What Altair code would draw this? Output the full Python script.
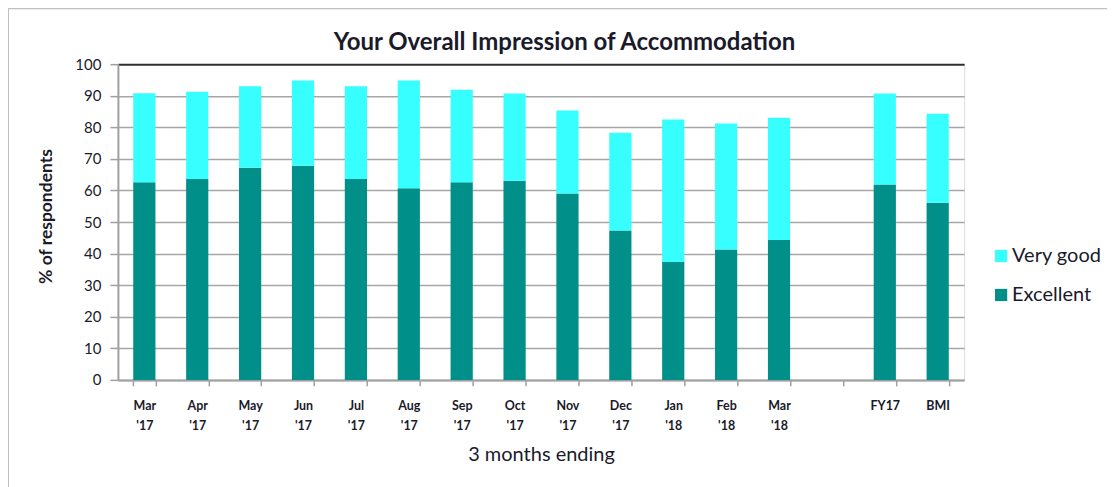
import altair as alt
import pandas as pd

categories = ["Mar '17", "Apr '17", "May '17", "Jun '17", "Jul '17", "Aug '17",
              "Sep '17", "Oct '17", "Nov '17", "Dec '17", "Jan '18", "Feb '18",
              "Mar '18", "gap", "FY17", "BMI"]
excellent = [62.6, 63.6, 67.2, 67.8, 63.6, 60.7, 62.6, 63.1, 59.0, 47.3, 37.3,
             41.3, 44.3, None, 61.9, 56.1]
very_good = [28.2, 27.7, 25.8, 27.0, 29.4, 34.1, 29.3, 27.6, 26.3, 31.0, 45.2,
             39.9, 38.7, None, 28.8, 28.2]
series = ["Very good", "Excellent"]
colors = ["#38FFFF", "#009089"]
title_text = "Your Overall Impression of Accommodation"

rows = []
for c, e, v in zip(categories, excellent, very_good):
    if e is None:
        continue
    rows.append({"cat": c, "series": "Excellent", "value": e, "ord": 0})
    rows.append({"cat": c, "series": "Very good", "value": v, "ord": 1})
df = pd.DataFrame(rows)

FONT = "Lato"
TXT = "#1a1a2a"

bars = alt.Chart(df).mark_bar().encode(
    x=alt.X("cat:N", sort=categories,
            scale=alt.Scale(domain=categories, paddingInner=0.58, paddingOuter=0.29),
            axis=alt.Axis(
                title="3 months ending",
                labelExpr="(datum.value == null || datum.value == 'gap') ? '' : split(datum.value, ' ')",
                labelAngle=0, labelFont=FONT, labelFontSize=12.5, labelFontWeight="bold",
                labelColor=TXT, labelLineHeight=20, labelBaseline="top",
                labelPadding=14, tickSize=6, tickBand="extent",
                tickColor="#a0a0a0", tickWidth=1.5,
                domainColor="#a0a0a0", domainWidth=2,
                titleFont=FONT, titleFontSize=20, titleFontWeight="normal",
                titleColor=TXT, titleY=75, titleBaseline="middle", grid=False)),
    y=alt.Y("value:Q", stack="zero",
            scale=alt.Scale(domain=[0, 100], nice=False),
            axis=alt.Axis(
                title="% of respondents", values=list(range(0, 101, 10)),
                labelFont=FONT, labelFontSize=15, labelColor=TXT, labelPadding=9,
                tickSize=8, tickColor="#a0a0a0", tickWidth=1.5,
                domainColor="#a0a0a0", domainWidth=2,
                grid=True,
                gridColor={"condition": {"test": "datum.value == 100", "value": "#303030"},
                           "value": "#a6a6a6"},
                gridWidth={"condition": {"test": "datum.value == 100", "value": 2},
                           "value": 1.5},
                titleFont=FONT, titleFontSize=17.5, titleFontWeight="bold",
                titleColor=TXT, titleX=-71, titleY=152, titleAngle=-90,
                titleAlign="center", titleBaseline="middle")),
    color=alt.Color("series:N", scale=alt.Scale(domain=series, range=colors),
                    legend=alt.Legend(title=None, orient="none", legendX=874,
                                      legendY=182, symbolType="square",
                                      symbolSize=150, symbolStrokeWidth=0,
                                      labelFont=FONT, labelFontSize=20,
                                      labelColor=TXT, rowPadding=19,
                                      labelOffset=1)),
    order=alt.Order("ord:Q"),
)

frame_src = pd.DataFrame({"k": [0]})
top_line = alt.Chart(frame_src).mark_rule(color="#c0c0c0", strokeWidth=2).encode(
    x=alt.value(-110), x2=alt.value(1100), y=alt.value(-56))
left_line = alt.Chart(frame_src).mark_rule(color="#c0c0c0", strokeWidth=2).encode(
    x=alt.value(-110), y=alt.value(-56), y2=alt.value(500))
title_mark = alt.Chart(frame_src).mark_text(
    font=FONT, fontSize=24, fontWeight="bold", color=TXT, align="center",
    baseline="middle").encode(x=alt.value(447), y=alt.value(-21),
                              text=alt.value(title_text))

chart = alt.layer(bars, top_line, left_line, title_mark).properties(
    width=847, height=316,
    autosize=alt.AutoSizeParams(type="none"),
    padding={"left": 110, "top": 56, "right": 143, "bottom": 107},
).configure_view(stroke="#303030", strokeWidth=2).configure(background="white")

chart.save("out.html", embed_options={"renderer": "svg", "actions": False})
